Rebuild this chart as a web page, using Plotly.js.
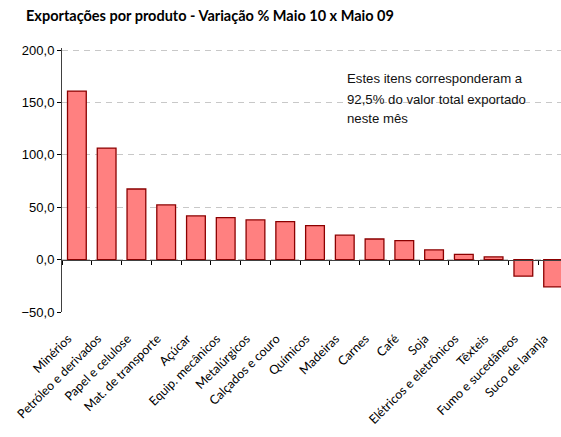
<!DOCTYPE html>
<html>
<head>
<meta charset="utf-8">
<script src="https://cdn.plot.ly/plotly-3.0.1.min.js"></script>
<style>
html, body { margin: 0; padding: 0; overflow: hidden; background: #fff; }
#chart { width: 568px; height: 437px; }
</style>
</head>
<body>
<div id="chart"></div>
<script>
const categories = ["Minérios", "Petróleo e derivados", "Papel e celulose", "Mat. de transporte", "Açúcar",
  "Equip. mecânicos", "Metalúrgicos", "Calçados e couro", "Químicos", "Madeiras", "Carnes", "Café",
  "Soja", "Elétricos e eletrônicos", "Têxteis", "Fumo e sucedâneos", "Suco de laranja"];
const values = [160.9, 106.5, 67.4, 52.2, 41.7, 40.0, 37.9, 36.2, 32.4, 23.3, 19.7, 18.1, 9.3, 5.1, 2.6, -15.8, -26.0];
const yTicks = [-50, 0, 50, 100, 150, 200];
const titleText = "Exportações por produto - Variação % Maio 10 x Maio 09";
const noteLines = ["Estes itens corresponderam a", "92,5% do valor total exportado", "neste mês"];

const yMin = -50, yMax = 202;

// font sizing helper: pick a size so a reference string gets a target width
const cv = document.createElement("canvas").getContext("2d");
function fitSize(text, family, weight, target) {
  cv.font = weight + " 20px " + family;
  const w = cv.measureText(text).width;
  return Math.round(20 * target / w * 10) / 10;
}
const titleFamily = "Lato";
const titleSize = fitSize(titleText, titleFamily, "bold", 368);
const catFamily = "Lato";
const catSize = fitSize("Petróleo e derivados", catFamily, "normal", 112);
const noteFamily = "Liberation Sans";
const noteSize = fitSize(noteLines[0], noteFamily, "normal", 176);

const traces = [
  {
    type: "bar",
    x: categories,
    y: values,
    marker: { color: "#FF8080", line: { color: "#8B0000", width: 1.3 } },
    hoverinfo: "x+y"
  },
  {
    type: "scatter",
    mode: "markers",
    x: categories,
    y: values,
    xaxis: "x2",
    marker: { opacity: 0 },
    hoverinfo: "skip",
    showlegend: false
  }
];

const noteY = [0.885, 0.805, 0.733];
const annotations = noteLines.map((t, i) => ({
  text: t, xref: "paper", yref: "paper", x: 0.56, y: noteY[i],
  xanchor: "left", yanchor: "middle", showarrow: false,
  font: { family: noteFamily + ", Arial, sans-serif", size: noteSize, color: "#111" }
}));

// 200 sits at y=50px, -50 at y=311.7px
const pxPerUnit = (311.7 - 50) / 250;
const topMargin = 50 - (yMax - 200) * pxPerUnit;

const layout = {
  width: 568,
  height: 437,
  margin: { l: 62, r: 0, t: topMargin, b: 125.3 },
  paper_bgcolor: "#fff",
  plot_bgcolor: "#fff",
  separators: ",.",
  showlegend: false,
  bargap: 0.37,
  title: {
    text: "<b>" + titleText + "</b>",
    xref: "container", yref: "container",
    x: 26 / 568, xanchor: "left",
    y: 1 - 16 / 437, yanchor: "middle",
    font: { family: titleFamily + ", sans-serif", size: titleSize, color: "#000" }
  },
  xaxis: {
    type: "category",
    categoryarray: categories,
    range: [-0.5, categories.length - 0.5],
    showgrid: false,
    showline: false,
    ticks: "",
    tickangle: -45,
    ticklabelstandoff: 16,
    ticklabelshift: -9,
    tickfont: { family: catFamily + ", sans-serif", size: catSize, color: "#000" },
    fixedrange: true
  },
  xaxis2: {
    type: "category",
    overlaying: "x",
    categoryarray: categories,
    range: [-0.5, categories.length - 0.5],
    anchor: "free",
    position: (0 - yMin) / (yMax - yMin),
    showline: true,
    linecolor: "#404040",
    linewidth: 1,
    ticks: "outside",
    tickson: "boundaries",
    ticklen: 4,
    tickcolor: "#000",
    tickwidth: 1,
    showticklabels: false,
    showgrid: false,
    fixedrange: true
  },
  yaxis: {
    range: [yMin, yMax],
    tickvals: yTicks,
    tickformat: ".1f",
    showgrid: true,
    gridcolor: "#c8c8c8",
    griddash: "6px,5px",
    gridwidth: 1,
    zeroline: false,
    showline: true,
    linecolor: "#404040",
    linewidth: 1,
    ticks: "outside",
    ticklen: 4,
    tickcolor: "#000",
    tickfont: { family: "Liberation Sans, Arial, sans-serif", size: 13, color: "#000" },
    fixedrange: true
  },
  annotations: annotations
};

Plotly.newPlot("chart", traces, layout, { displayModeBar: false, staticPlot: true });
</script>
</body>
</html>
